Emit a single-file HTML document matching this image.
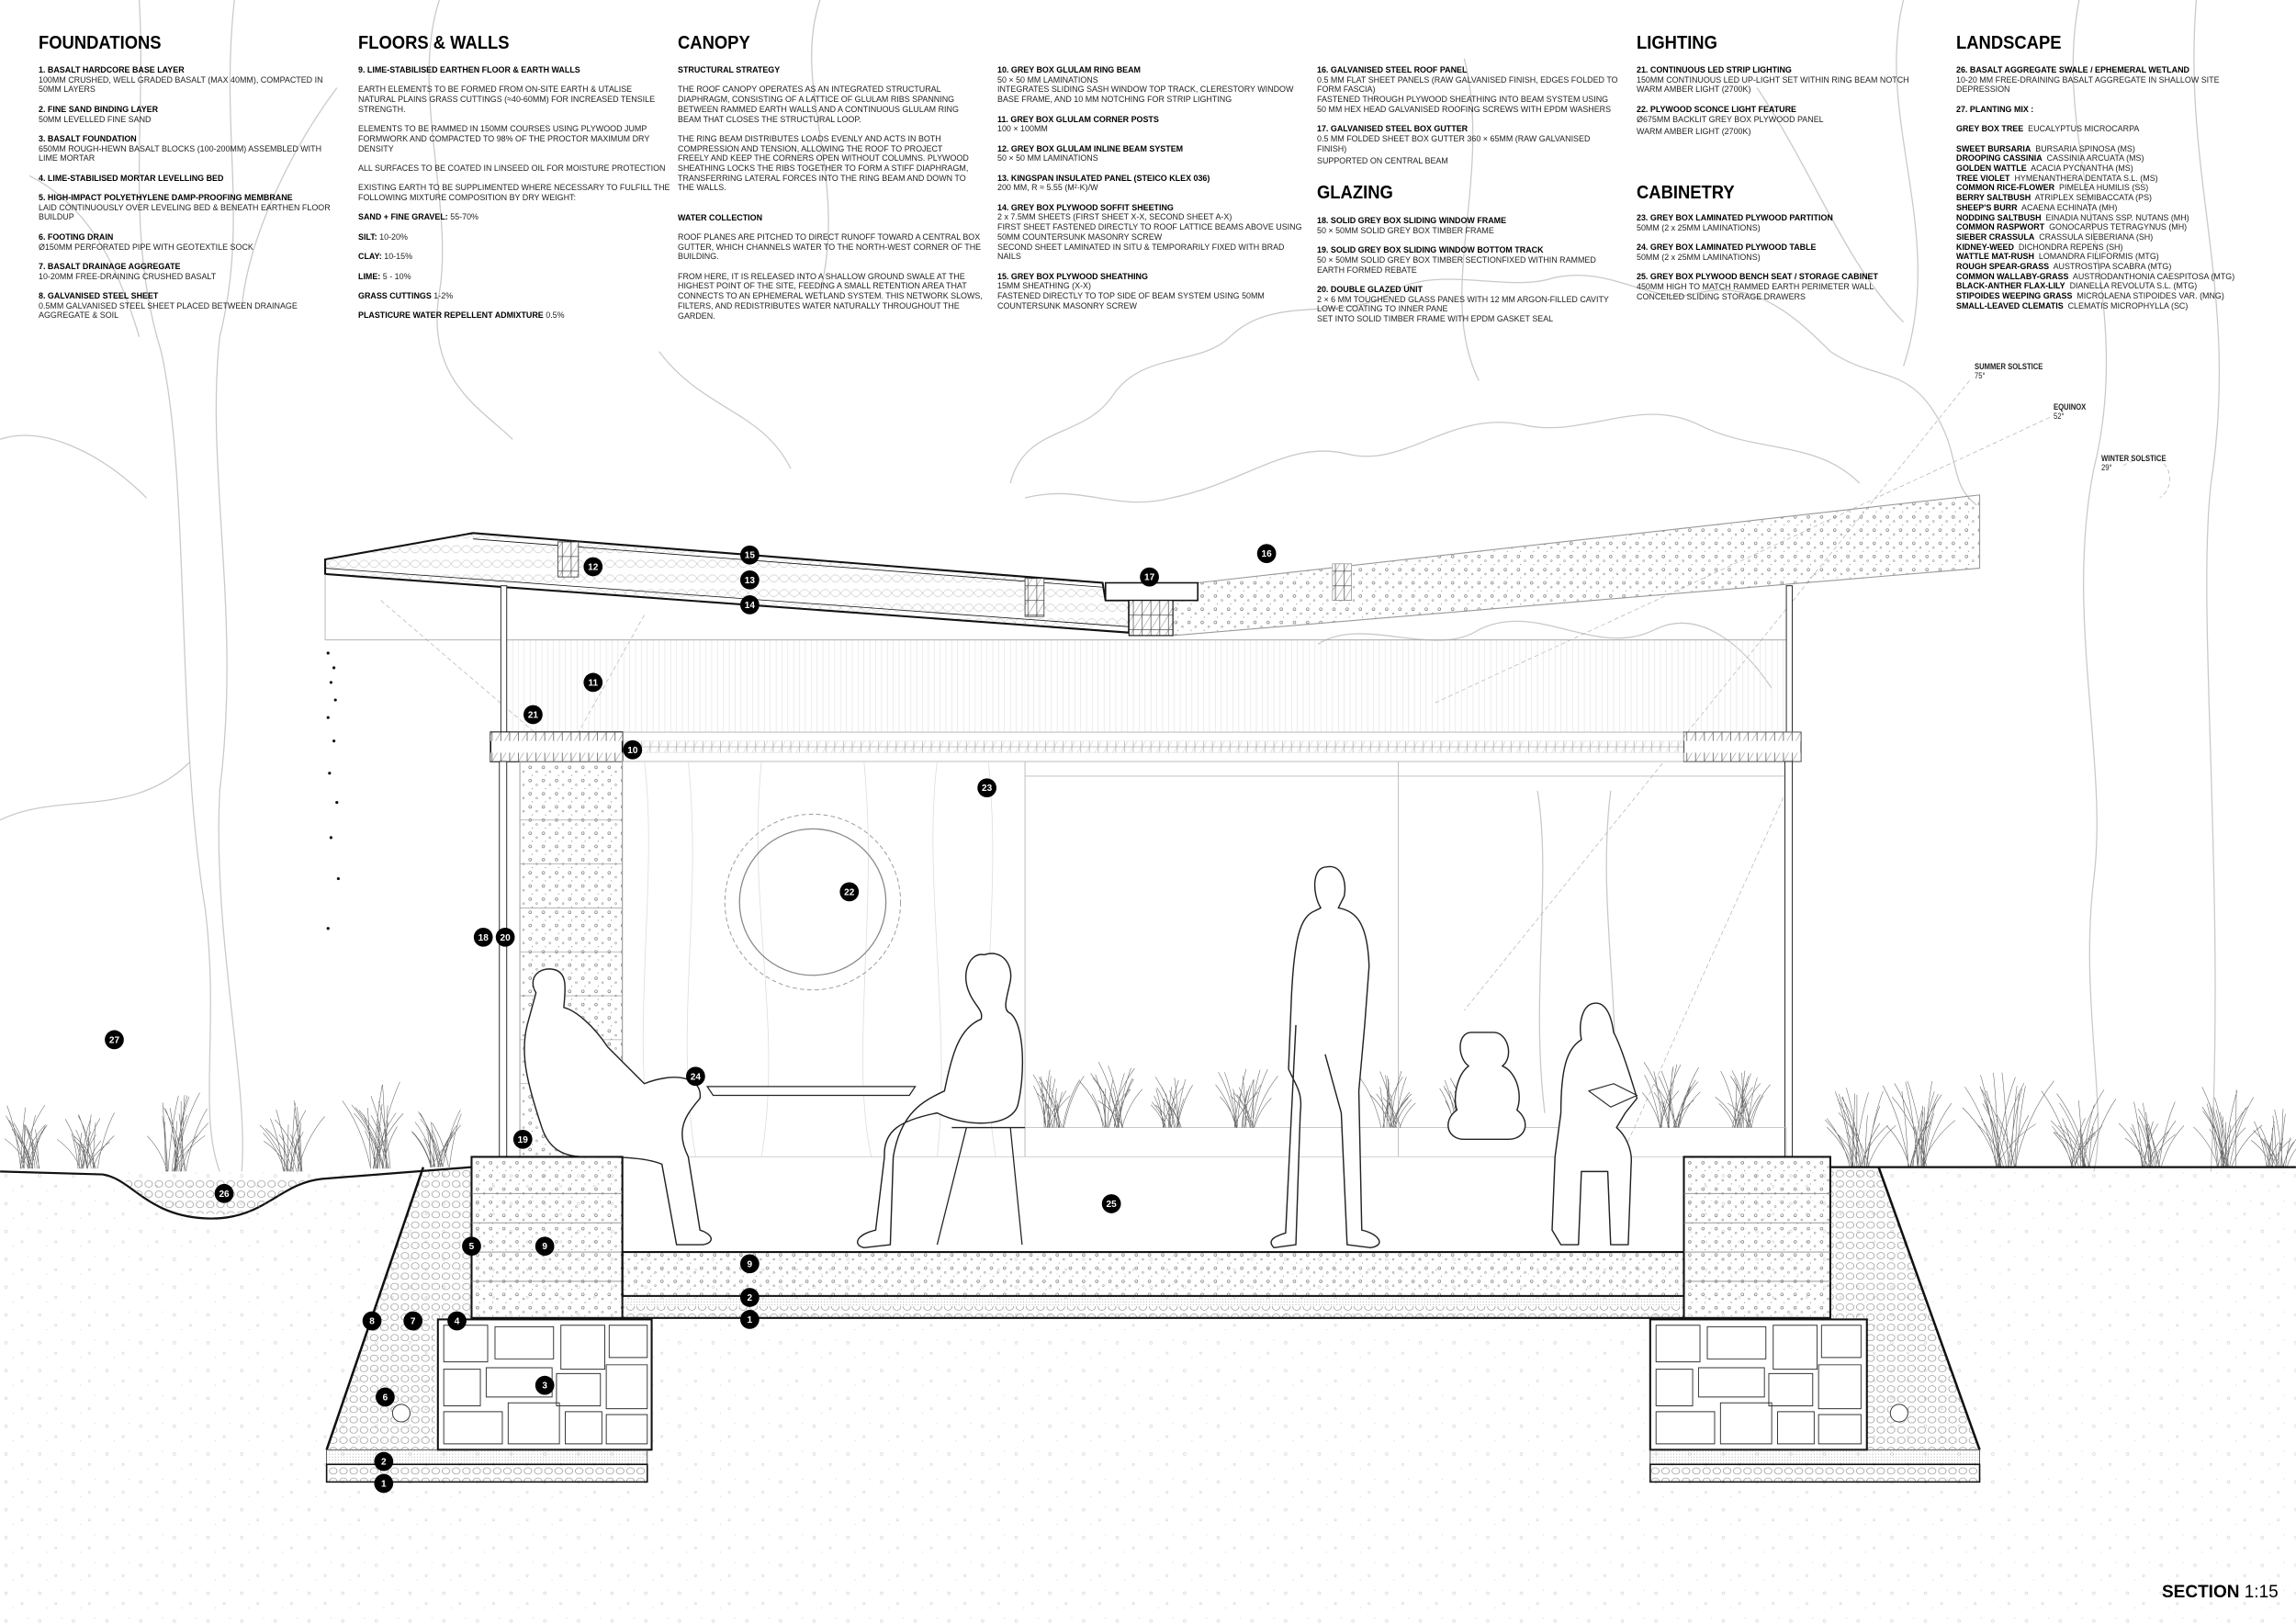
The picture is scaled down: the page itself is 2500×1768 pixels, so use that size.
<!DOCTYPE html>
<html><head><meta charset="utf-8">
<style>
html,body{margin:0;padding:0;background:#fff;}
#page{position:relative;width:2500px;height:1768px;overflow:hidden;background:#fff;}
svg#d{position:absolute;left:0;top:0;}
.col{position:absolute;font-family:"Liberation Sans",sans-serif;font-size:9.6px;line-height:10.7px;color:#222;white-space:nowrap;transform:scaleX(0.93);transform-origin:0 0;}
.col b{color:#000;}
.col p{margin:0 0 10.7px 0;}
.h{position:absolute;font-family:"Liberation Sans",sans-serif;font-weight:bold;font-size:20px;color:#000;transform:scaleX(0.92);transform-origin:0 0;}
.sun{position:absolute;font-family:"Liberation Sans",sans-serif;font-size:9px;line-height:10px;color:#222;transform:scaleX(0.85);transform-origin:0 0;}
</style></head><body><div id="page">
<svg id="d" width="2500" height="1768" viewBox="0 0 1568 1109" xmlns="http://www.w3.org/2000/svg">
<defs>
<pattern id="st" width="9" height="9" patternUnits="userSpaceOnUse"><circle cx="2" cy="2" r="0.9" fill="none" stroke="#555" stroke-width="0.35"/><circle cx="6.5" cy="5" r="0.6" fill="none" stroke="#666" stroke-width="0.3"/><circle cx="3.5" cy="7.5" r="0.35" fill="#777"/></pattern>
<pattern id="gr" width="7" height="7" patternUnits="userSpaceOnUse"><ellipse cx="3.5" cy="3.5" rx="2.6" ry="2.2" fill="none" stroke="#777" stroke-width="0.35"/></pattern>
<pattern id="fs" width="2" height="2" patternUnits="userSpaceOnUse"><circle cx="1" cy="1" r="0.3" fill="#888"/></pattern>
<pattern id="soil" width="23" height="19" patternUnits="userSpaceOnUse"><circle cx="4" cy="5" r="0.9" fill="none" stroke="#ccc" stroke-width="0.35"/><circle cx="15" cy="12" r="0.7" fill="none" stroke="#ccc" stroke-width="0.35"/><circle cx="19" cy="3" r="0.4" fill="#ddd"/><circle cx="9" cy="15" r="0.4" fill="#ddd"/></pattern>
<pattern id="ins" width="14" height="10" patternUnits="userSpaceOnUse"><path d="M0 5 Q3.5 0 7 5 Q10.5 10 14 5" fill="none" stroke="#aaa" stroke-width="0.3"/><path d="M0 5 Q3.5 10 7 5 Q10.5 0 14 5" fill="none" stroke="#aaa" stroke-width="0.3"/></pattern>
<pattern id="hatch" width="6" height="10" patternUnits="userSpaceOnUse"><rect width="6" height="10" fill="#fff" stroke="#333" stroke-width="0.4"/><path d="M0 10 L6 0" stroke="#666" stroke-width="0.3"/></pattern>
<pattern id="vl" width="4" height="10" patternUnits="userSpaceOnUse"><path d="M2 0V10" stroke="#e2e2e2" stroke-width="0.4"/></pattern>
</defs>
<g fill="none" stroke="#c9c9c9" stroke-width="0.8">
<path d="M95 0 C100 80 85 160 110 240 C130 330 120 500 140 620 C150 700 135 760 150 800"/>
<path d="M160 0 C150 90 170 150 150 230 C140 320 165 420 150 540 C145 640 170 740 165 800"/>
<path d="M20 120 C60 140 80 180 95 230"/><path d="M230 60 C200 100 170 160 165 210"/>
<path d="M300 0 C280 60 310 140 300 200 C290 260 330 280 350 300"/>
<path d="M0 300 C30 290 70 310 100 340"/><path d="M0 560 C40 540 90 560 130 520"/>
<path d="M690 330 C700 290 740 300 760 270 C780 240 820 250 840 230 C870 200 920 220 950 200 C980 180 1030 200 1060 190 C1100 180 1130 210 1160 200 C1200 190 1230 220 1250 240 C1280 260 1300 250 1320 280 C1340 310 1330 330 1350 345"/>
<path d="M700 340 C740 330 760 350 800 340 C850 330 880 300 920 310 C960 320 990 280 1040 290 C1080 300 1120 270 1160 290 C1200 310 1240 300 1270 330"/>
<path d="M900 440 C930 420 980 450 1010 430 C1050 410 1090 450 1130 430 C1160 415 1190 440 1210 470"/>
<path d="M1300 0 C1280 80 1330 160 1300 250"/><path d="M1420 0 C1400 100 1460 200 1430 320 C1410 420 1440 520 1430 600 C1420 680 1440 760 1430 800"/>
<path d="M1500 0 C1490 120 1530 200 1510 330 C1500 420 1520 600 1510 800"/>
<path d="M1200 60 C1240 120 1260 180 1300 220"/><path d="M1000 40 C1020 120 980 200 1010 260"/>
<path d="M560 0 C540 60 580 120 560 200"/><path d="M450 240 C480 280 520 280 540 320"/>
<path d="M1050 540 C1060 600 1045 680 1055 760"/><path d="M1100 540 C1090 620 1110 700 1100 760"/>
</g>
<g stroke="#aaa" stroke-width="0.4" stroke-dasharray="3 2" fill="none">
<path d="M1345 260 L1000 690"/><path d="M1400 285 L980 480"/><path d="M1450 318 C1480 300 1490 330 1475 340"/>
<path d="M260 410 L365 500"/><path d="M440 420 L395 500"/><path d="M1220 540 L1080 850"/>
</g>
<rect x="0" y="798" width="1568" height="311" fill="url(#soil)"/>
<path d="M818 398 L1352 338 L1352 388 L801 434 L801 410 L818 410 Z" fill="url(#st)" stroke="#999" stroke-width="0.7"/>
<path d="M222 382 L323 364 L753 398 L755 410 L771 410 L771 432 L222 392 Z" fill="url(#ins)" stroke="#111" stroke-width="1.3"/>
<path d="M222 388 L771 428" stroke="#111" stroke-width="0.5"/>
<path d="M323 368 L753 401" stroke="#111" stroke-width="0.5"/>
<rect x="755" y="398" width="63" height="12" fill="#fff" stroke="#111" stroke-width="1"/>
<rect x="771" y="410" width="30" height="24" fill="url(#hatch)" stroke="#111" stroke-width="0.7"/>
<rect x="381" y="370" width="14" height="24" fill="url(#hatch)" stroke="#333" stroke-width="0.5"/>
<rect x="700" y="395" width="13" height="26" fill="url(#hatch)" stroke="#333" stroke-width="0.5"/>
<rect x="910" y="385" width="13" height="25" fill="url(#hatch)" stroke="#999" stroke-width="0.5"/>
<rect x="345" y="437" width="877" height="63" fill="url(#vl)" stroke="#bbb" stroke-width="0.5"/>
<path d="M222 392 L222 437 L1222 437" stroke="#aaa" stroke-width="0.5" fill="none"/>
<rect x="342" y="400" width="4" height="100" fill="#fff" stroke="#222" stroke-width="0.6"/>
<rect x="1220" y="400" width="4" height="100" fill="#fff" stroke="#222" stroke-width="0.6"/>
<rect x="335" y="500" width="895" height="20" fill="#fff" stroke="#bbb" stroke-width="0.6"/>
<rect x="425" y="506" width="725" height="8" fill="url(#hatch)" stroke="#bbb" stroke-width="0.3" opacity="0.45"/>
<rect x="335" y="500" width="90" height="20" fill="#fff" stroke="#111" stroke-width="1"/>
<rect x="335" y="500" width="90" height="6" fill="url(#hatch)"/><rect x="335" y="514" width="90" height="6" fill="url(#hatch)"/>
<rect x="1150" y="500" width="80" height="20" fill="#fff" stroke="#555" stroke-width="0.8"/>
<rect x="1150" y="500" width="80" height="6" fill="url(#hatch)"/><rect x="1150" y="514" width="80" height="6" fill="url(#hatch)"/>
<rect x="425" y="520" width="275" height="270" fill="#fff" stroke="#bbb" stroke-width="0.6"/>
<g stroke="#ddd" stroke-width="0.5" fill="none"><path d="M440 520 C450 600 430 700 445 790"/><path d="M470 520 C480 620 460 700 475 790"/><path d="M520 520 C510 620 535 700 520 790"/><path d="M590 520 C600 620 580 720 595 790"/><path d="M640 520 C630 600 650 700 640 790"/><path d="M675 520 C685 620 665 700 680 790"/></g>
<circle cx="555" cy="616" r="50" fill="none" stroke="#888" stroke-width="0.8"/>
<circle cx="555" cy="616" r="60" fill="none" stroke="#999" stroke-width="0.6" stroke-dasharray="3 2"/>
<path d="M700 530 L1220 530 M955 520 V790" stroke="#bbb" stroke-width="0.6"/>
<rect x="341" y="520" width="5" height="270" fill="#fff" stroke="#222" stroke-width="0.6"/>
<rect x="1219" y="520" width="5" height="270" fill="#fff" stroke="#222" stroke-width="0.6"/>
<rect x="355" y="520" width="70" height="270" fill="url(#st)" stroke="#999" stroke-width="0.6"/>
<g stroke="#aaa" stroke-width="0.5"><path d="M355 560H425M355 590H425M355 620H425M355 650H425M355 680H425M355 710H425M355 740H425"/></g>
<rect x="700" y="770" width="520" height="20" fill="none" stroke="#bbb" stroke-width="0.5"/>
<rect x="425" y="790" width="725" height="65" fill="#fff" stroke="#ccc" stroke-width="0.5"/>
<g id="grass" fill="none" stroke="#666" stroke-width="0.35"></g>
<path d="M483 742 L625 742 L621 748 L487 748 Z" fill="#fff" stroke="#222" stroke-width="0.8"/>
<g fill="#fff" stroke="#222" stroke-width="0.9" stroke-linejoin="round">
<path d="M366 678 C360 668 368 660 378 662 C388 664 386 676 385 688 C393 690 405 700 415 715 L440 740 C460 732 480 735 478 750 C470 760 460 770 470 790 L478 840 C485 842 490 848 480 850 L462 850 L452 795 C440 790 420 790 400 790 C385 790 375 785 370 770 C360 740 355 720 360 700 Z"/>
<path d="M672 652 C662 650 656 665 662 678 C665 686 672 690 670 696 C655 702 650 720 645 745 C630 752 615 760 610 790 L608 850 L590 852 C582 850 585 843 598 840 L604 790 C603 772 615 765 640 760 C660 770 690 770 695 755 C700 735 700 700 690 692 C684 690 688 680 690 670 C692 658 684 648 672 652 Z"/>
<path d="M650 770 L700 770 M660 770 L640 850 M690 770 L698 850" stroke-width="0.8"/>
<path d="M906 592 C896 592 896 610 902 620 L898 622 C888 626 884 640 882 680 L880 730 C884 740 890 745 888 760 L885 850 L870 852 C866 848 868 845 878 842 L882 760 L885 700 M906 592 C916 590 920 602 918 612 L914 620 C926 622 934 630 935 660 L932 700 L928 745 L930 840 C940 842 948 850 936 852 L920 850 L916 760 L905 720"/>
<path d="M1005 705 C995 705 995 722 1003 728 C995 734 992 750 995 758 C985 765 988 778 1000 778 L1030 778 C1042 778 1046 766 1036 758 C1040 748 1036 732 1026 728 C1034 722 1030 705 1020 705 Z"/>
<path d="M1090 685 C1080 685 1078 700 1080 710 C1070 716 1066 730 1066 760 L1062 790 L1060 840 L1066 850 L1078 850 L1080 800 L1098 800 L1100 850 L1112 850 L1114 795 C1115 785 1110 775 1104 770 L1110 760 L1118 750 C1112 730 1106 712 1102 705 C1100 690 1095 685 1090 685 Z"/>
<path d="M1085 745 L1102 740 L1118 748 L1100 756 Z" stroke-width="0.7"/>
</g>
<path d="M289 797 L322 797 L322 900 L297 900 L297 990 L223 990 Z" fill="url(#gr)" stroke="none"/>
<path d="M289 797 L223 990" stroke="#111" stroke-width="1.6"/>
<rect x="322" y="790" width="103" height="110" fill="url(#st)" stroke="#111" stroke-width="1.3"/>
<g stroke="#888" stroke-width="0.5"><path d="M322 815H425M322 835H425M322 855H425M322 875H425"/></g>
<rect x="299" y="901" width="146" height="89" fill="#fff" stroke="#111" stroke-width="1.3"/>
<g fill="none" stroke="#333" stroke-width="0.6">
<path d="M303 905h30v25h-30z M338 906h40v22h-40z M383 905h30v30h-30z M416 905h26v22h-26z M303 935h25v25h-25z M332 934h45v20h-45z M380 938h30v22h-30z M414 932h28v30h-28z M303 964h40v22h-40z M347 958h35v28h-35z M386 964h25v22h-25z M414 966h28v20h-28z"/>
</g>
<rect x="223" y="990" width="219" height="10" fill="url(#fs)" stroke="#333" stroke-width="0.5"/>
<rect x="223" y="1000" width="219" height="12" fill="url(#gr)" stroke="#111" stroke-width="1"/>
<circle cx="274" cy="965" r="6" fill="#fff" stroke="#333" stroke-width="0.6"/>
<rect x="425" y="855" width="725" height="30" fill="url(#st)" stroke="#111" stroke-width="1.3"/>
<rect x="425" y="885" width="725" height="7" fill="url(#fs)"/>
<rect x="425" y="892" width="725" height="8" fill="url(#gr)"/>
<path d="M425 900H1150" stroke="#111" stroke-width="1.3"/>
<path d="M1250 797 L1283 797 L1352 990 L1275 990 L1275 900 L1250 900 Z" fill="url(#gr)"/>
<path d="M1283 797 L1352 990" stroke="#111" stroke-width="1.6"/>
<rect x="1150" y="790" width="100" height="110" fill="url(#st)" stroke="#111" stroke-width="1.3"/>
<g stroke="#888" stroke-width="0.5"><path d="M1150 815H1250M1150 835H1250M1150 855H1250M1150 875H1250"/></g>
<rect x="1127" y="901" width="148" height="89" fill="#fff" stroke="#111" stroke-width="1.3"/>
<g fill="none" stroke="#333" stroke-width="0.6">
<path d="M1131 905h30v25h-30z M1166 906h40v22h-40z M1211 905h30v30h-30z M1244 905h27v22h-27z M1131 935h25v25h-25z M1160 934h45v20h-45z M1208 938h30v22h-30z M1242 932h29v30h-29z M1131 964h40v22h-40z M1175 958h35v28h-35z M1214 964h25v22h-25z M1242 966h29v20h-29z"/>
</g>
<rect x="1127" y="990" width="225" height="10" fill="url(#fs)" stroke="#333" stroke-width="0.5"/>
<rect x="1127" y="1000" width="225" height="12" fill="url(#gr)" stroke="#111" stroke-width="1"/>
<circle cx="1297" cy="965" r="6" fill="#fff" stroke="#333" stroke-width="0.6"/>
<path d="M0 800 L70 802 C90 805 100 830 140 832 C180 834 190 808 220 805 L322 797" fill="none" stroke="#111" stroke-width="1.4"/>
<path d="M85 806 C100 826 130 832 170 828 C190 820 195 810 210 806 Z" fill="url(#gr)"/>
<path d="M1250 797 C1350 798 1450 796 1568 797" fill="none" stroke="#111" stroke-width="1.4"/>
<g fill="#111"><circle cx="224" cy="446" r="1"/><circle cx="228" cy="456" r="1"/><circle cx="226" cy="466" r="1"/><circle cx="229" cy="478" r="1"/><circle cx="224" cy="490" r="1"/><circle cx="228" cy="506" r="1"/><circle cx="225" cy="528" r="1"/><circle cx="230" cy="548" r="1"/><circle cx="226" cy="572" r="1"/><circle cx="231" cy="600" r="1"/><circle cx="224" cy="634" r="1"/></g>
<g id="labels" font-family="Liberation Sans, sans-serif" font-weight="bold" font-size="6.3" fill="#fff" text-anchor="middle"></g>
</svg>

<div class="h" style="left:42px;top:36px">FOUNDATIONS</div>
<div class="h" style="left:390px;top:36px">FLOORS &amp; WALLS</div>
<div class="h" style="left:738px;top:36px">CANOPY</div>
<div class="h" style="left:1782px;top:36px">LIGHTING</div>
<div class="h" style="left:2130px;top:36px">LANDSCAPE</div>
<div class="h" style="left:1434px;top:199px">GLAZING</div>
<div class="h" style="left:1782px;top:199px">CABINETRY</div>

<div class="col" style="left:42px;top:72px">
<p><b>1. BASALT HARDCORE BASE LAYER</b><br>100MM CRUSHED, WELL GRADED BASALT (MAX 40MM), COMPACTED IN<br>50MM LAYERS</p>
<p><b>2. FINE SAND BINDING LAYER</b><br>50MM LEVELLED FINE SAND</p>
<p><b>3. BASALT FOUNDATION</b><br>650MM ROUGH-HEWN BASALT BLOCKS (100-200MM) ASSEMBLED WITH<br>LIME MORTAR</p>
<p><b>4. LIME-STABILISED MORTAR LEVELLING BED</b></p>
<p><b>5. HIGH-IMPACT POLYETHYLENE DAMP-PROOFING MEMBRANE</b><br>LAID CONTINUOUSLY OVER LEVELING BED &amp; BENEATH EARTHEN FLOOR<br>BUILDUP</p>
<p><b>6. FOOTING DRAIN</b><br>Ø150MM PERFORATED PIPE WITH GEOTEXTILE SOCK</p>
<p><b>7. BASALT DRAINAGE AGGREGATE</b><br>10-20MM FREE-DRAINING CRUSHED BASALT</p>
<p><b>8. GALVANISED STEEL SHEET</b><br>0.5MM GALVANISED STEEL SHEET PLACED BETWEEN DRAINAGE<br>AGGREGATE &amp; SOIL</p>
</div>
<div class="col" style="left:390px;top:72px">
<p><b>9. LIME-STABILISED EARTHEN FLOOR &amp; EARTH WALLS</b></p>
<p>EARTH ELEMENTS TO BE FORMED FROM ON-SITE EARTH &amp; UTALISE<br>NATURAL PLAINS GRASS CUTTINGS (≈40-60MM) FOR INCREASED TENSILE<br>STRENGTH.</p>
<p>ELEMENTS TO BE RAMMED IN 150MM COURSES USING PLYWOOD JUMP<br>FORMWORK AND COMPACTED TO 98% OF THE PROCTOR MAXIMUM DRY<br>DENSITY</p>
<p>ALL SURFACES TO BE COATED IN LINSEED OIL FOR MOISTURE PROTECTION</p>
<p>EXISTING EARTH TO BE SUPPLIMENTED WHERE NECESSARY TO FULFILL THE<br>FOLLOWING MIXTURE COMPOSITION BY DRY WEIGHT:</p>
<p><b>SAND + FINE GRAVEL:</b> 55-70%</p>
<p><b>SILT:</b> 10-20%</p>
<p><b>CLAY:</b> 10-15%</p>
<p><b>LIME:</b> 5 - 10%</p>
<p><b>GRASS CUTTINGS</b> 1-2%</p>
<p><b>PLASTICURE WATER REPELLENT ADMIXTURE</b> 0.5%</p>
</div>
<div class="col" style="left:738px;top:72px">
<p><b>STRUCTURAL STRATEGY</b></p>
<p>THE ROOF CANOPY OPERATES AS AN INTEGRATED STRUCTURAL<br>DIAPHRAGM, CONSISTING OF A LATTICE OF GLULAM RIBS SPANNING<br>BETWEEN RAMMED EARTH WALLS AND A CONTINUOUS GLULAM RING<br>BEAM THAT CLOSES THE STRUCTURAL LOOP.</p>
<p>THE RING BEAM DISTRIBUTES LOADS EVENLY AND ACTS IN BOTH<br>COMPRESSION AND TENSION, ALLOWING THE ROOF TO PROJECT<br>FREELY AND KEEP THE CORNERS OPEN WITHOUT COLUMNS. PLYWOOD<br>SHEATHING LOCKS THE RIBS TOGETHER TO FORM A STIFF DIAPHRAGM,<br>TRANSFERRING LATERAL FORCES INTO THE RING BEAM AND DOWN TO<br>THE WALLS.</p>
<p style="margin-top:21.4px"><b>WATER COLLECTION</b></p>
<p>ROOF PLANES ARE PITCHED TO DIRECT RUNOFF TOWARD A CENTRAL BOX<br>GUTTER, WHICH CHANNELS WATER TO THE NORTH-WEST CORNER OF THE<br>BUILDING.</p>
<p>FROM HERE, IT IS RELEASED INTO A SHALLOW GROUND SWALE AT THE<br>HIGHEST POINT OF THE SITE, FEEDING A SMALL RETENTION AREA THAT<br>CONNECTS TO AN EPHEMERAL WETLAND SYSTEM. THIS NETWORK SLOWS,<br>FILTERS, AND REDISTRIBUTES WATER NATURALLY THROUGHOUT THE<br>GARDEN.</p>
</div>
<div class="col" style="left:1086px;top:72px">
<p><b>10. GREY BOX GLULAM RING BEAM</b><br>50 × 50 MM LAMINATIONS<br>INTEGRATES SLIDING SASH WINDOW TOP TRACK, CLERESTORY WINDOW<br>BASE FRAME, AND 10 MM NOTCHING FOR STRIP LIGHTING</p>
<p><b>11. GREY BOX GLULAM CORNER POSTS</b><br>100 × 100MM</p>
<p><b>12. GREY BOX GLULAM INLINE BEAM SYSTEM</b><br>50 × 50 MM LAMINATIONS</p>
<p><b>13. KINGSPAN INSULATED PANEL (STEICO KLEX 036)</b><br>200 MM, R ≈ 5.55 (M²·K)/W</p>
<p><b>14. GREY BOX PLYWOOD SOFFIT SHEETING</b><br>2 x 7.5MM SHEETS (FIRST SHEET X-X, SECOND SHEET A-X)<br>FIRST SHEET FASTENED DIRECTLY TO ROOF LATTICE BEAMS ABOVE USING<br>50MM COUNTERSUNK MASONRY SCREW<br>SECOND SHEET LAMINATED IN SITU &amp; TEMPORARILY FIXED WITH BRAD<br>NAILS</p>
<p><b>15. GREY BOX PLYWOOD SHEATHING</b><br>15MM SHEATHING (X-X)<br>FASTENED DIRECTLY TO TOP SIDE OF BEAM SYSTEM USING 50MM<br>COUNTERSUNK MASONRY SCREW</p>
</div>
<div class="col" style="left:1434px;top:72px">
<p><b>16. GALVANISED STEEL ROOF PANEL</b><br>0.5 MM FLAT SHEET PANELS (RAW GALVANISED FINISH, EDGES FOLDED TO<br>FORM FASCIA)<br>FASTENED THROUGH PLYWOOD SHEATHING INTO BEAM SYSTEM USING<br>50 MM HEX HEAD GALVANISED ROOFING SCREWS WITH EPDM WASHERS</p>
<p style="margin-bottom:3px"><b>17. GALVANISED STEEL BOX GUTTER</b><br>0.5 MM FOLDED SHEET BOX GUTTER 360 × 65MM (RAW GALVANISED<br>FINISH)</p>
<p>SUPPORTED ON CENTRAL BEAM</p>
<p style="margin-top:54px"><b>18. SOLID GREY BOX SLIDING WINDOW FRAME</b><br>50 × 50MM SOLID GREY BOX TIMBER FRAME</p>
<p><b>19. SOLID GREY BOX SLIDING WINDOW BOTTOM TRACK</b><br>50 × 50MM SOLID GREY BOX TIMBER SECTIONFIXED WITHIN RAMMED<br>EARTH FORMED REBATE</p>
<p><b>20. DOUBLE GLAZED UNIT</b><br>2 × 6 MM TOUGHENED GLASS PANES WITH 12 MM ARGON-FILLED CAVITY<br>LOW-E COATING TO INNER PANE<br>SET INTO SOLID TIMBER FRAME WITH EPDM GASKET SEAL</p>
</div>
<div class="col" style="left:1782px;top:72px">
<p><b>21. CONTINUOUS LED STRIP LIGHTING</b><br>150MM CONTINUOUS LED UP-LIGHT SET WITHIN RING BEAM NOTCH<br>WARM AMBER LIGHT (2700K)</p>
<p style="margin-bottom:3px"><b>22. PLYWOOD SCONCE LIGHT FEATURE</b><br>Ø675MM BACKLIT GREY BOX PLYWOOD PANEL</p>
<p>WARM AMBER LIGHT (2700K)</p>
<p style="margin-top:83px"><b>23. GREY BOX LAMINATED PLYWOOD PARTITION</b><br>50MM (2 x 25MM LAMINATIONS)</p>
<p><b>24. GREY BOX LAMINATED PLYWOOD TABLE</b><br>50MM (2 x 25MM LAMINATIONS)</p>
<p><b>25. GREY BOX PLYWOOD BENCH SEAT / STORAGE CABINET</b><br>450MM HIGH TO MATCH RAMMED EARTH PERIMETER WALL<br>CONCEILED SLIDING STORAGE DRAWERS</p>
</div>
<div class="col" style="left:2130px;top:72px">
<p><b>26. BASALT AGGREGATE SWALE / EPHEMERAL WETLAND</b><br>10-20 MM FREE-DRAINING BASALT AGGREGATE IN SHALLOW SITE<br>DEPRESSION</p>
<p><b>27. PLANTING MIX :</b></p>
<p><b>GREY BOX TREE</b>&nbsp; EUCALYPTUS MICROCARPA</p>
<p><b>SWEET BURSARIA</b>&nbsp; BURSARIA SPINOSA (MS)<br><b>DROOPING CASSINIA</b>&nbsp; CASSINIA ARCUATA (MS)<br><b>GOLDEN WATTLE</b>&nbsp; ACACIA PYCNANTHA (MS)<br><b>TREE VIOLET</b>&nbsp; HYMENANTHERA DENTATA S.L. (MS)<br><b>COMMON RICE-FLOWER</b>&nbsp; PIMELEA HUMILIS (SS)<br><b>BERRY SALTBUSH</b>&nbsp; ATRIPLEX SEMIBACCATA (PS)<br><b>SHEEP'S BURR</b>&nbsp; ACAENA ECHINATA (MH)<br><b>NODDING SALTBUSH</b>&nbsp; EINADIA NUTANS SSP. NUTANS (MH)<br><b>COMMON RASPWORT</b>&nbsp; GONOCARPUS TETRAGYNUS (MH)<br><b>SIEBER CRASSULA</b>&nbsp; CRASSULA SIEBERIANA (SH)<br><b>KIDNEY-WEED</b>&nbsp; DICHONDRA REPENS (SH)<br><b>WATTLE MAT-RUSH</b>&nbsp; LOMANDRA FILIFORMIS (MTG)<br><b>ROUGH SPEAR-GRASS</b>&nbsp; AUSTROSTIPA SCABRA (MTG)<br><b>COMMON WALLABY-GRASS</b>&nbsp; AUSTRODANTHONIA CAESPITOSA (MTG)<br><b>BLACK-ANTHER FLAX-LILY</b>&nbsp; DIANELLA REVOLUTA S.L. (MTG)<br><b>STIPOIDES WEEPING GRASS</b>&nbsp; MICROLAENA STIPOIDES VAR. (MNG)<br><b>SMALL-LEAVED CLEMATIS</b>&nbsp; CLEMATIS MICROPHYLLA (SC)</p>
</div>

<div class="sun" style="left:2150px;top:394px"><b>SUMMER SOLSTICE</b><br>75°</div>
<div class="sun" style="left:2236px;top:438px"><b>EQUINOX</b><br>52°</div>
<div class="sun" style="left:2288px;top:494px"><b>WINTER SOLSTICE</b><br>29°</div>
<div style="position:absolute;left:2354px;top:1723px;font-family:'Liberation Sans',sans-serif;font-size:19px;color:#000;"><b>SECTION</b> 1:15</div>
</div>
<script>
(function(){
var NS="http://www.w3.org/2000/svg";
var L=[[15,512,379],[12,405,387],[13,512,396],[14,512,413],[17,785,394],[16,865,378],[11,405,466],[21,364,488],[10,432,512],[23,674,538],[22,580,609],[18,330,640],[20,345,640],[27,78,710],[24,475,735],[19,357,778],[25,759,822],[26,153,815],[5,322,851],[9,372,851],[9,512,863],[2,512,886],[1,512,901],[8,254,902],[7,282,902],[4,312,902],[3,372,946],[6,263,954],[2,262,998],[1,262,1013]];
var g=document.getElementById('labels');
L.forEach(function(a){var c=document.createElementNS(NS,'circle');c.setAttribute('cx',a[1]);c.setAttribute('cy',a[2]);c.setAttribute('r',6.5);c.setAttribute('fill','#000');g.appendChild(c);
var t=document.createElementNS(NS,'text');t.setAttribute('x',a[1]);t.setAttribute('y',a[2]+2.2);t.textContent=a[0];g.appendChild(t);});
var s=7,r=function(){s=(s*9301+49297)%233280;return s/233280;};
var gr=document.getElementById('grass'),d='';
var clumps=[[20,798,45],[60,798,40],[120,800,55],[200,800,50],[260,798,60],[300,797,40],[720,770,40],[760,770,45],[800,770,35],[850,770,45],[950,770,40],[1000,770,35],[1140,770,45],[1190,770,40],[1270,797,55],[1310,797,60],[1370,797,70],[1420,797,55],[1470,797,45],[1520,797,55],[1555,797,40]];
clumps.forEach(function(c){for(var i=0;i<22;i++){var x=c[0]+(r()-0.5)*14,h=c[2]*(0.4+r()*0.6),dx=(r()-0.5)*c[2]*0.8;d+='M'+x.toFixed(1)+' '+c[1]+' Q'+(x+dx*0.3).toFixed(1)+' '+(c[1]-h*0.6).toFixed(1)+' '+(x+dx).toFixed(1)+' '+(c[1]-h).toFixed(1);}});
var p=document.createElementNS(NS,'path');p.setAttribute('d',d);gr.appendChild(p);
})();
</script>
</body></html>
